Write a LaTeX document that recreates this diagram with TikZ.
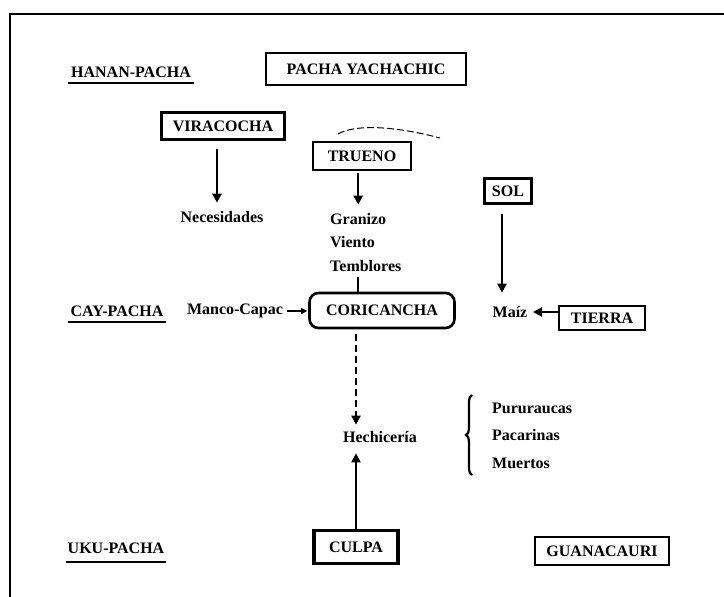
\documentclass[tikz,border=0pt]{standalone}
\usepackage{fontspec}
\setmainfont{Liberation Serif}
\usetikzlibrary{arrows.meta,decorations.pathreplacing}
\begin{document}
\begin{tikzpicture}[x=1pt,y=-1pt,
  every node/.style={font=\fontsize{16}{18}\selectfont\bfseries},
  txt/.style={inner sep=0pt, anchor=center},
  ltxt/.style={inner sep=0pt, anchor=west},
  boxed/.style={draw, line width=2.2pt, inner sep=0pt},
  arr/.style={line width=2.4pt, -{Triangle[length=9pt,width=9pt]}},
  thinarr/.style={line width=1.2pt, -{Triangle[length=6pt,width=6pt]}},
  ul/.style={line width=2pt},
  frame/.style={line width=1.8pt}
]
\useasboundingbox (0,0) rectangle (724,597);
% frame
\coordinate (fbl) at (10,597);
\coordinate (ftl) at (10,14);
\coordinate (ftr) at (724,14);
\draw[frame] (fbl) -- (ftl) -- (ftr);

% level labels
\node[txt] (hanan) at (131,72) {HANAN-PACHA};
\node[txt] (cay) at (117,311) {CAY-PACHA};
\node[txt] (uku) at (116,548) {UKU-PACHA};
\draw[ul] ([xshift=-3pt,yshift=-5pt]hanan.south west) -- ([xshift=3pt,yshift=-5pt]hanan.south east);
\draw[ul] ([xshift=-2pt,yshift=-5pt]cay.south west) -- ([xshift=2pt,yshift=-5pt]cay.south east);
\draw[ul] ([xshift=-2pt,yshift=-8pt]uku.south west) -- ([xshift=2pt,yshift=-8pt]uku.south east);

% boxes
\node[boxed, line width=2.8pt, minimum width=200pt, minimum height=32pt] (pacha) at (366,69) {PACHA YACHACHIC};
\node[boxed, minimum width=123pt, minimum height=27pt] (vira) at (223,126) {VIRACOCHA};
\node[boxed, minimum width=98pt, minimum height=28pt] (trueno) at (362,156) {TRUENO};
\node[boxed, minimum width=47pt, minimum height=25pt] (sol) at (508,191) {SOL};
\node[boxed, rounded corners=9pt, line width=2.6pt, minimum width=145pt, minimum height=35pt] (cori) at (382,310.5) {CORICANCHA};
\node[boxed, minimum width=86pt, minimum height=24pt] (tierra) at (602,318) {TIERRA};
\node[boxed, line width=3.4pt, minimum width=84pt, minimum height=33pt] (culpa) at (356,547) {CULPA};
\node[boxed, line width=2.8pt, minimum width=134pt, minimum height=28pt] (guana) at (602,551) {GUANACAURI};

% texts
\node[txt] (nec) at (222,217) {Necesidades};
\node[ltxt] (granizo) at (330,219) {Granizo};
\node[ltxt] (viento) at (330,242) {Viento};
\node[ltxt] (temb) at (330,266) {Temblores};
\node[txt] (manco) at (235,311) {Manco-Capac};
\node[txt] (maiz) at (510,312) {Maíz};
\node[txt] (hech) at (380,437) {Hechicería};
\node[ltxt] (puru) at (492,408) {Pururaucas};
\node[ltxt] (paca) at (492,435) {Pacarinas};
\node[ltxt] (muer) at (492,463) {Muertos};

% brace
\coordinate (brb) at (472,475);
\coordinate (brt) at (472,395);
\draw[line width=2.2pt, decorate, decoration={brace, amplitude=6pt}] (brb) -- (brt);

% stray mark above TRUENO
\draw[line width=1pt, dash pattern=on 7pt off 3pt] (338,134) .. controls (355,124) and (395,126) .. (440,138);

% connectors
\draw[arr, shorten <=8pt, shorten >=8.5pt] ([xshift=-6pt]vira.south) -- ([xshift=-5pt]nec.north);
\draw[arr, shorten <=2pt, shorten >=8.5pt] (granizo.north |- trueno.south) -- (granizo.north);
\draw[line width=2.2pt, shorten <=5.5pt] (granizo.north |- temb.south) -- (granizo.north |- cori.north);
\draw[arr, shorten <=9pt, shorten >=13.5pt] ([xshift=-6pt]sol.south) -- ([xshift=-8pt]maiz.north);
\draw[thinarr, shorten <=4pt, shorten >=1pt] (manco.east) -- (cori.west |- manco.east);
\draw[arr, shorten >=5.5pt] (tierra.west |- maiz.east) -- (maiz.east);
\draw[arr, line width=2.2pt, dash pattern=on 7pt off 4pt, shorten <=5pt, shorten >=6.5pt] (culpa.north |- cori.south) -- (culpa.north |- hech.north);
\draw[arr, line width=2pt, shorten >=10.5pt] (culpa.north) -- (culpa.north |- hech.south);
\end{tikzpicture}
\end{document}
